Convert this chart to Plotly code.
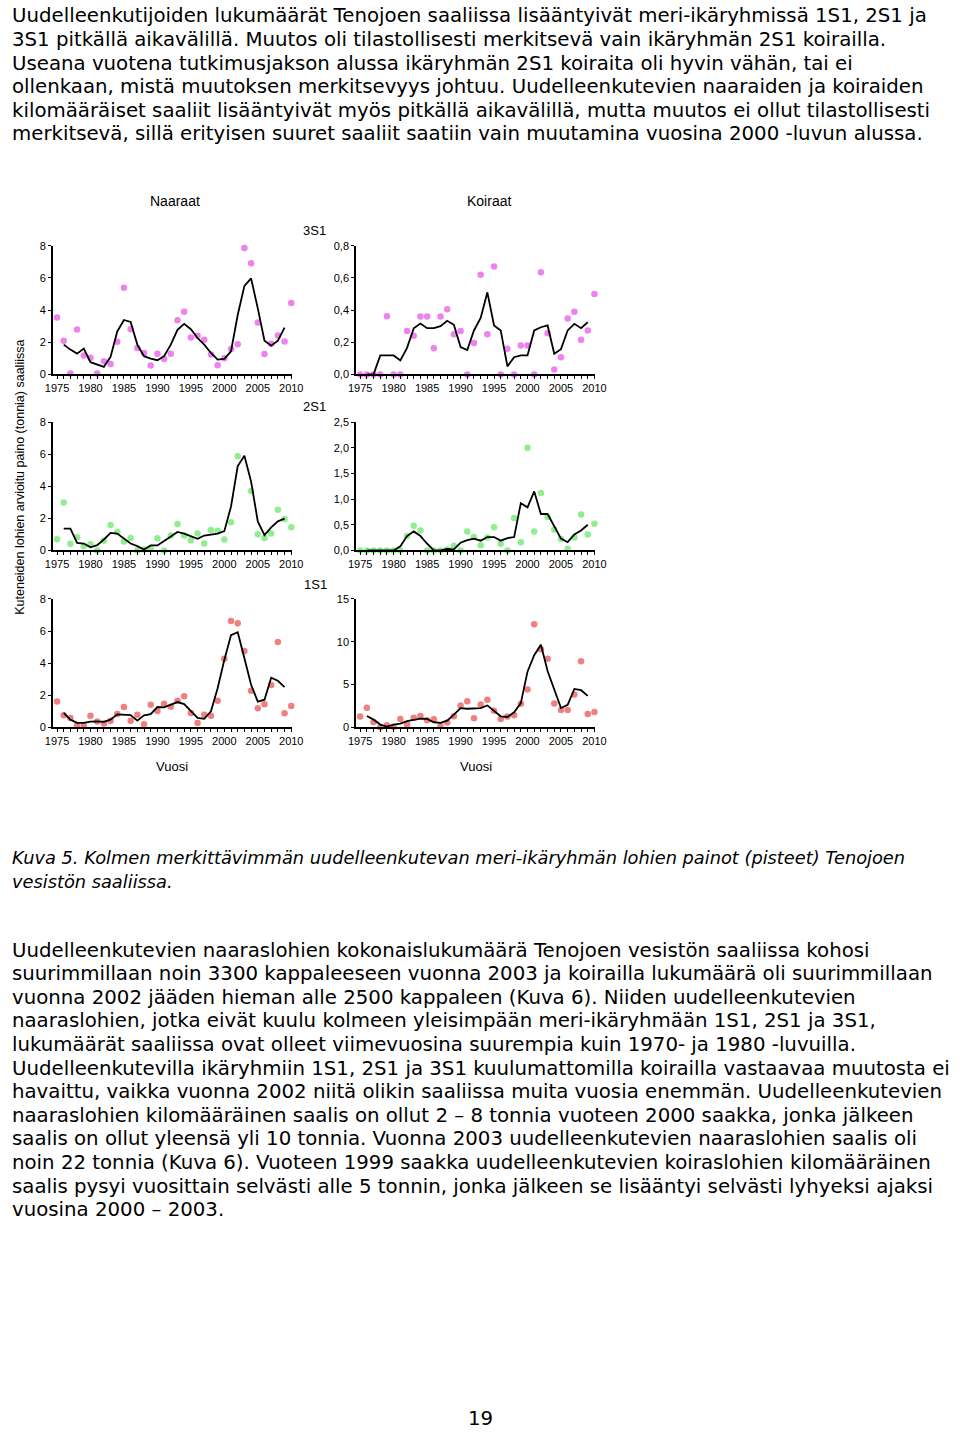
import plotly.graph_objects as go

W, H = 960, 1434

years = list(range(1975, 2011))
line_years = list(range(1976, 2010))

# ---- Naaraat (females) ----
f3_pts = [3.53, 2.09, 0.06, 2.79, 1.17, 1.03, 0.06, 0.82, 0.64, 2.03, 5.39, 2.81, 1.64, 1.33, 0.55, 1.29,
          0.96, 1.29, 3.36, 3.90, 2.30, 2.40, 2.15, 1.23, 0.57, 1.00, 1.58, 1.87, 7.86, 6.91, 3.22, 1.27,
          1.91, 2.42, 2.05, 4.43]
f3_line = [1.85, 1.54, 1.29, 1.60, 0.76, 0.62, 0.47, 1.09, 2.67, 3.38, 3.26, 1.85, 1.13, 0.98, 0.88, 1.13,
           1.85, 2.77, 3.14, 2.81, 2.26, 1.85, 1.33, 0.92, 0.96, 1.44, 3.69, 5.50, 5.97, 4.10, 2.09, 1.78,
           2.09, 2.91]

f2_pts = [0.70, 2.99, 0.41, 0.82, 0.27, 0.39, 0.00, 0.60, 1.59, 1.15, 0.56, 0.78, 0.00, 0.05, 0.10, 0.76,
          0.00, 0.93, 1.65, 0.93, 0.64, 1.05, 0.43, 1.28, 1.22, 0.68, 1.75, 5.88, None, 3.71, 1.01, 0.78,
          1.05, 2.54, 1.96, 1.44]
f2_line = [1.36, 1.36, 0.47, 0.43, 0.19, 0.33, 0.68, 1.09, 1.05, 0.72, 0.43, 0.27, 0.06, 0.31, 0.31, 0.58,
           0.85, 1.15, 1.05, 0.89, 0.72, 0.93, 0.99, 1.05, 1.20, 2.74, 5.26, 5.90, 4.29, 1.81, 0.95, 1.44,
           1.81, 1.98]

f1_pts = [1.61, 0.74, 0.58, 0.12, 0.10, 0.72, 0.35, 0.23, 0.41, 0.82, 1.26, 0.41, 0.78, 0.19, 1.40, 1.01,
          1.46, 1.28, 1.65, 1.94, 0.89, 0.27, 0.78, 0.72, 1.65, 4.27, 6.62, 6.49, 4.76, 2.27, 1.18, 1.44,
          2.64, 5.32, 0.87, 1.32]
f1_line = [0.89, 0.47, 0.27, 0.27, 0.35, 0.37, 0.33, 0.47, 0.80, 0.80, 0.76, 0.41, 0.74, 0.82, 1.26, 1.24,
           1.40, 1.57, 1.44, 0.99, 0.58, 0.52, 0.99, 2.43, 4.20, 5.75, 5.93, 4.30, 2.65, 1.60, 1.72, 3.09,
           2.90, 2.50]

# ---- Koiraat (males) ----
m3_pts = [0.00, 0.00, 0.00, 0.00, 0.362, 0.00, 0.00, 0.27, 0.24, 0.36, 0.36, 0.163, 0.36, 0.405, 0.25, 0.27,
          0.00, 0.195, 0.62, 0.25, 0.67, 0.00, 0.16, 0.00, 0.18, 0.18, 0.00, 0.635, 0.256, 0.03, 0.107, 0.347,
          0.39, 0.215, 0.273, 0.50]
m3_line = [0.00, 0.00, 0.118, 0.118, 0.118, 0.087, 0.165, 0.287, 0.316, 0.287, 0.287, 0.30, 0.333, 0.308,
           0.17, 0.151, 0.273, 0.351, 0.51, 0.304, 0.273, 0.05, 0.107, 0.118, 0.118, 0.273, 0.293, 0.304,
           0.128, 0.157, 0.273, 0.314, 0.287, 0.324]

m2_pts = [0.00, 0.00, 0.00, 0.00, 0.00, 0.00, 0.00, 0.28, 0.48, 0.39, 0.00, 0.00, 0.00, 0.02, 0.09, 0.00,
          0.37, 0.26, 0.10, 0.25, 0.45, 0.13, 0.00, 0.63, 0.16, 2.00, 0.37, 1.12, 0.65, 0.41, 0.22, 0.03,
          0.25, 0.70, 0.31, 0.52]
m2_line = [0.00, 0.00, 0.00, 0.00, 0.00, 0.08, 0.28, 0.37, 0.28, 0.13, 0.00, 0.00, 0.03, 0.02, 0.15, 0.20,
           0.23, 0.19, 0.26, 0.26, 0.19, 0.24, 0.26, 0.92, 0.84, 1.15, 0.71, 0.71, 0.47, 0.23, 0.16, 0.31,
           0.39, 0.50]

m1_pts = [1.24, 2.28, 0.62, 0.00, 0.23, 0.05, 0.97, 0.31, 1.12, 1.31, 0.81, 0.93, 0.15, 0.54, 1.28, 2.55,
          3.05, 1.04, 2.67, 3.21, 1.93, 0.97, 1.24, 1.39, 2.74, 4.41, 12.06, 9.12, 8.00, 2.78, 2.01, 2.01,
          3.83, 7.73, 1.55, 1.78]
m1_line = [1.31, 0.89, 0.31, 0.08, 0.31, 0.43, 0.70, 0.81, 1.00, 0.97, 0.58, 0.50, 0.77, 1.47, 2.24, 2.16,
           2.20, 2.24, 2.55, 1.93, 1.28, 1.20, 1.74, 2.82, 6.50, 8.43, 9.66, 6.57, 4.37, 2.24, 2.63, 4.48,
           4.33, 3.67]

x_tick_vals = [1975, 1980, 1985, 1990, 1995, 2000, 2005, 2010]
x_tick_text = [str(v) for v in x_tick_vals]

y_left_vals = [0, 2, 4, 6, 8]
y_left_text = ["0", "2", "4", "6", "8"]
y_r1_vals = [0, 0.2, 0.4, 0.6, 0.8]
y_r1_text = ["0,0", "0,2", "0,4", "0,6", "0,8"]
y_r2_vals = [0, 0.5, 1.0, 1.5, 2.0, 2.5]
y_r2_text = ["0,0", "0,5", "1,0", "1,5", "2,0", "2,5"]
y_r3_vals = [0, 5, 10, 15]
y_r3_text = ["0", "5", "10", "15"]

PINK = "#EE82EE"
GREEN = "#90EE90"
RED = "#F08080"

top_text = [
    "Uudelleenkutijoiden lukumäärät Tenojoen saaliissa lisääntyivät meri-ikäryhmissä 1S1, 2S1 ja",
    "3S1 pitkällä aikavälillä. Muutos oli tilastollisesti merkitsevä vain ikäryhmän 2S1 koirailla.",
    "Useana vuotena tutkimusjakson alussa ikäryhmän 2S1 koiraita oli hyvin vähän, tai ei",
    "ollenkaan, mistä muutoksen merkitsevyys johtuu. Uudelleenkutevien naaraiden ja koiraiden",
    "kilomääräiset saaliit lisääntyivät myös pitkällä aikavälillä, mutta muutos ei ollut tilastollisesti",
    "merkitsevä, sillä erityisen suuret saaliit saatiin vain muutamina vuosina 2000 -luvun alussa.",
]
caption_text = [
    "Kuva 5. Kolmen merkittävimmän uudelleenkutevan meri-ikäryhmän lohien painot (pisteet) Tenojoen",
    "vesistön saaliissa.",
]
bottom_text = [
    "Uudelleenkutevien naaraslohien kokonaislukumäärä Tenojoen vesistön saaliissa kohosi",
    "suurimmillaan noin 3300 kappaleeseen vuonna 2003 ja koirailla lukumäärä oli suurimmillaan",
    "vuonna 2002 jääden hieman alle 2500 kappaleen (Kuva 6). Niiden uudelleenkutevien",
    "naaraslohien, jotka eivät kuulu kolmeen yleisimpään meri-ikäryhmään 1S1, 2S1 ja 3S1,",
    "lukumäärät saaliissa ovat olleet viimevuosina suurempia kuin 1970- ja 1980 -luvuilla.",
    "Uudelleenkutevilla ikäryhmiin 1S1, 2S1 ja 3S1 kuulumattomilla koirailla vastaavaa muutosta ei",
    "havaittu, vaikka vuonna 2002 niitä olikin saaliissa muita vuosia enemmän. Uudelleenkutevien",
    "naaraslohien kilomääräinen saalis on ollut 2 – 8 tonnia vuoteen 2000 saakka, jonka jälkeen",
    "saalis on ollut yleensä yli 10 tonnia. Vuonna 2003 uudelleenkutevien naaraslohien saalis oli",
    "noin 22 tonnia (Kuva 6). Vuoteen 1999 saakka uudelleenkutevien koiraslohien kilomääräinen",
    "saalis pysyi vuosittain selvästi alle 5 tonnin, jonka jälkeen se lisääntyi selvästi lyhyeksi ajaksi",
    "vuosina 2000 – 2003.",
]


def px(x):
    return x / W


def py(y):
    return 1 - y / H


fig = go.Figure()

panels = [
    (f3_pts, f3_line, PINK, 0, 0, [0, 8], y_left_vals, y_left_text),
    (m3_pts, m3_line, PINK, 1, 0, [0, 0.8], y_r1_vals, y_r1_text),
    (f2_pts, f2_line, GREEN, 0, 1, [0, 8], y_left_vals, y_left_text),
    (m2_pts, m2_line, GREEN, 1, 1, [0, 2.5], y_r2_vals, y_r2_text),
    (f1_pts, f1_line, RED, 0, 2, [0, 8], y_left_vals, y_left_text),
    (m1_pts, m1_line, RED, 1, 2, [0, 15], y_r3_vals, y_r3_text),
]

col_px = [(45.7, 290.0), (355.0, 599.3)]
row_px = [(241.7, 371.5), (419.7, 549.0), (598.0, 727.3)]
XR = [1974.37, 2010.15]
tick_font = dict(family="Liberation Sans, Arial, sans-serif", size=11, color="#000")

for i, (pts, ln, color, c, r, yr, tv, tt) in enumerate(panels, start=1):
    xa = "x" if i == 1 else f"x{i}"
    ya = "y" if i == 1 else f"y{i}"
    fig.add_trace(go.Scatter(x=years, y=pts, mode="markers", xaxis=xa, yaxis=ya,
                             marker=dict(color=color, size=6.5, line=dict(width=0)),
                             cliponaxis=False, showlegend=False, hoverinfo="x+y"))
    fig.add_trace(go.Scatter(x=line_years, y=ln, mode="lines", xaxis=xa, yaxis=ya,
                             line=dict(color="black", width=1.8),
                             cliponaxis=False, showlegend=False, hoverinfo="x+y"))
    x0, x1 = col_px[c]
    y0, y1 = row_px[r]
    xkey = "xaxis" if i == 1 else f"xaxis{i}"
    ykey = "yaxis" if i == 1 else f"yaxis{i}"
    fig.layout[xkey] = dict(domain=[px(x0), px(x1)], range=XR, anchor=ya,
                            tickvals=x_tick_vals, ticktext=x_tick_text,
                            showline=True, linecolor="black", linewidth=1.5,
                            ticks="outside", ticklen=3, tickwidth=1, tickcolor="black",
                            minor=dict(dtick=1, tick0=1975, ticks="outside", ticklen=3,
                                       tickwidth=1, tickcolor="black"),
                            showgrid=False, zeroline=False, tickfont=tick_font, fixedrange=True)
    fig.layout[ykey] = dict(domain=[py(y1), py(y0)], range=yr, anchor=xa,
                            tickvals=tv, ticktext=tt,
                            showline=True, linecolor="black", linewidth=1.5,
                            ticks="outside", ticklen=3, tickwidth=1, tickcolor="black",
                            showgrid=False, zeroline=False, tickfont=tick_font, fixedrange=True)

annotations = []
body_font = dict(family="DejaVu Sans, Verdana, sans-serif", size=19.75, color="#000")
for k, t in enumerate(top_text):
    annotations.append(dict(text=t, x=px(2), y=py(10 + k * 23.8), xref="paper", yref="paper",
                            xanchor="left", yanchor="middle", showarrow=False, font=body_font))
cap_font = dict(family="DejaVu Sans, Verdana, sans-serif", size=17.8, color="#000")
for k, t in enumerate(caption_text):
    annotations.append(dict(text=f"<i>{t}</i>", x=px(2), y=py(859 + k * 23.5), xref="paper", yref="paper",
                            xanchor="left", yanchor="middle", showarrow=False, font=cap_font))
for k, t in enumerate(bottom_text):
    annotations.append(dict(text=t, x=px(2), y=py(952 + k * 23.8), xref="paper", yref="paper",
                            xanchor="left", yanchor="middle", showarrow=False, font=body_font))

lab_font = dict(family="Liberation Sans, Arial, sans-serif", size=14, color="#000")
small_font = dict(family="Liberation Sans, Arial, sans-serif", size=13, color="#000")
for t, x, y, f in [("Naaraat", 170, 197, lab_font), ("Koiraat", 491, 197, lab_font),
                   ("3S1", 313, 226, small_font), ("2S1", 313, 404, small_font),
                   ("1S1", 314, 583, small_font), ("Vuosi", 167, 767, small_font),
                   ("Vuosi", 477, 767, small_font)]:
    annotations.append(dict(text=t, x=px(x), y=py(y), xref="paper", yref="paper",
                            xanchor="center", yanchor="middle", showarrow=False, font=f))
annotations.append(dict(text="Kuteneiden lohien arvioitu paino (tonnia) saaliissa", x=px(12), y=py(475),
                        xref="paper", yref="paper", xanchor="center", yanchor="middle", textangle=-90,
                        showarrow=False, font=dict(family="Liberation Sans, Arial, sans-serif", size=12.5,
                                                   color="#000")))
annotations.append(dict(text="19", x=px(482), y=py(1424), xref="paper", yref="paper",
                        xanchor="center", yanchor="middle", showarrow=False, font=body_font))

fig.update_layout(width=W, height=H, margin=dict(l=0, r=0, t=0, b=0), autosize=False,
                  paper_bgcolor="white", plot_bgcolor="white", annotations=annotations,
                  showlegend=False)

# remove the default 8px body margin so the figure sits at the page origin
early_page_js = "data:text/javascript,document.body.style.setProperty('margin','0px','important');//.js"
page_css = "document.body.style.setProperty('margin','0px','important');"

fig.write_html("out.html", include_mathjax=early_page_js, post_script=page_css,
               config={"responsive": False, "displayModeBar": False})
